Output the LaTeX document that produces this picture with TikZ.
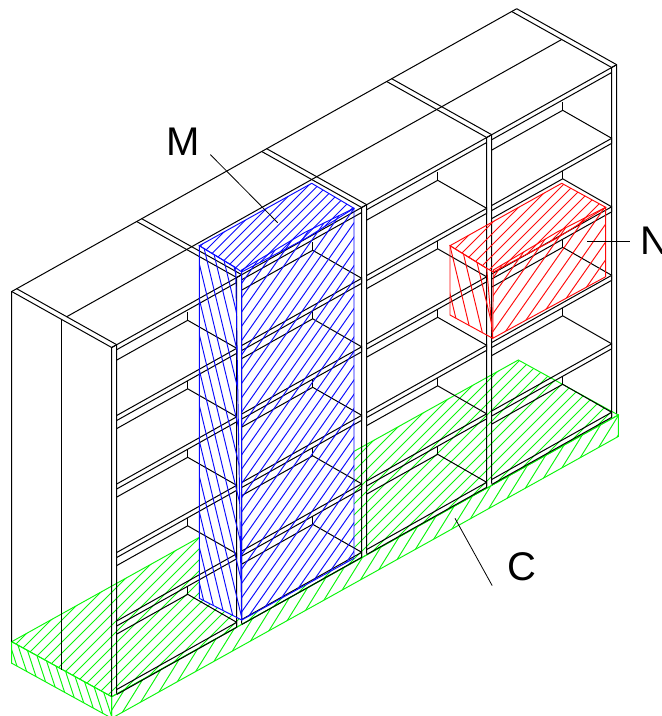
\documentclass[tikz,border=0pt]{standalone}
\usepackage{fontspec}
\setmainfont{Liberation Sans}
\usepackage{tikz}
\definecolor{HatchBlue}{RGB}{10, 10, 255}
\definecolor{HatchRed}{RGB}{255, 10, 10}
\definecolor{HatchGreen}{RGB}{10, 245, 10}

% face outline filled with parallel lines: path, colour, dx/dy of the lines, spacing
\newcommand{\hatchface}[4]{
    \begin{scope}
        \clip #1;
        \foreach \k in {-60,...,170} {
            \draw [hatchline, #2] ({\k*#4},0) -- ({\k*#4+716*#3},716);
        }
    \end{scope}
    \draw [hatchline, #2] #1;
}

\begin{document}
\begin{tikzpicture}[x=1pt, y=-1pt]
    \tikzstyle{rack} = [black, line width=1pt]
    \tikzstyle{hatchline} = [line width=0.95pt]
    \tikzstyle{leader} = [black, line width=0.8pt]
    \tikzstyle{letter} = [font=\fontsize{40}{48}\selectfont, inner sep=10pt]

    \useasboundingbox (0,0) rectangle (662,716);

    % Base
    \hatchface{(11.7,641.7) -- (518.3,360) -- (618.3,415) -- (111.7,696.7) -- cycle}{HatchGreen}{-1}{11}
    \hatchface{(11.7,641.7) -- (111.7,696.7) -- (111.7,718.2) -- (11.7,663.2) -- cycle}{HatchGreen}{0.33}{7.8}
    \hatchface{(111.7,696.7) -- (618.3,415) -- (618.3,436.5) -- (111.7,718.2) -- cycle}{HatchGreen}{-0.62}{12}

    % Blue box hides the base
    \fill [white] (199.3,245.7) -- (311.7,183.3) -- (354,208.3) -- (354,558.3) -- (241.7,620) -- (199.3,598.3) -- cycle;

    % Side panels
    \foreach \i in {0,...,4} {
        \pgfmathsetmacro{\fx}{111.7+125*\i}
        \pgfmathsetmacro{\fy}{347.5-70*\i}
        \draw [rack] (\fx-100,\fy-56) -- (\fx,\fy) -- (\fx,\fy+349);
        \draw [rack] (\fx-95,\fy-58.8) -- (\fx+5,\fy-2.8) -- (\fx+5,\fy+346.2);
        \draw [rack] (\fx,\fy) -- (\fx+5,\fy-2.8);
    }

    % Long top edges and end verticals
    \draw [rack] (11.7,641.7) -- (11.7,291.5) -- (516.7,8.7);
    \draw [rack] (111.7,347.5) -- (616.7,64.7);
    \draw [rack] (66.7,316.7) -- (561.7,39.5);
    \draw [rack] (61.7,319.5) -- (61.7,670);

    % Shelves
    \foreach \b in {0,...,3} {
        \pgfmathsetmacro{\xl}{116.7+125*\b}
        \pgfmathsetmacro{\xr}{236.7+125*\b}
        \pgfmathsetmacro{\dy}{70*(3-\b)}
        \draw [rack] (\xl,139.7+\dy) -- (\xr,72.5+\dy);
        \foreach \k in {0,...,4} {
            \pgfmathsetmacro{\yr}{138.3+\k*68.5+\dy}
            \pgfmathsetmacro{\xc}{\xr-49}
            \draw [rack] (\xl,\yr+67.2) -- (\xr,\yr) -- (\xr,\yr+5) -- (\xl,\yr+72.2);
            \draw [rack] (\xl,\yr+11.8) -- (\xc,\yr-28) -- (\xr,\yr);
            \draw [rack] (\xc,\yr-36.2) -- (\xc,\yr-28);
        }
    }

    % Blue box
    \hatchface{(199.3,245.7) -- (311.7,183.3) -- (354,208.3) -- (306,238.3) -- (241.7,272) -- (235.7,267.7) -- cycle}{HatchBlue}{-1}{9.5}
    \hatchface{(241.7,270) -- (305,232.3) -- (354,208.3) -- (354,558.3) -- (241.7,620) -- cycle}{HatchBlue}{-0.7}{10}
    \hatchface{(199.3,245.7) -- (235.7,267.7) -- (241.7,620) -- (199.3,598.3) -- cycle}{HatchBlue}{0.24}{8.5}

    % Red box
    \hatchface{(450,245.7) -- (561.7,183.3) -- (605.7,207.3) -- (556.7,238.3) -- (493.3,272) -- (486.7,268.3) -- cycle}{HatchRed}{-1}{11}
    \hatchface{(493.3,270) -- (556.7,232.3) -- (605.7,207.3) -- (605.7,276.7) -- (492.7,338.3) -- cycle}{HatchRed}{-0.7}{12.5}
    \hatchface{(450,245.7) -- (486.7,268.3) -- (492.7,338.3) -- (450,315) -- cycle}{HatchRed}{0.24}{11.5}

    % Labels
    \node (labelM) [letter] at (183.5,141.5) {M};
    \node (labelN) [letter] at (654.5,241) {N};
    \node (labelC) [letter, inner sep=14.7pt] at (521.5,566.5) {C};
    \coordinate (tipM) at (277.7,222.7);
    \coordinate (tipN) at (587.3,241);
    \coordinate (tipC) at (455,518.3);
    \draw [leader] (labelM.-26) -- (tipM);
    \draw [leader] (labelN.west) -- (tipN);
    \draw [leader] (labelC.213) -- (tipC);
\end{tikzpicture}
\end{document}
